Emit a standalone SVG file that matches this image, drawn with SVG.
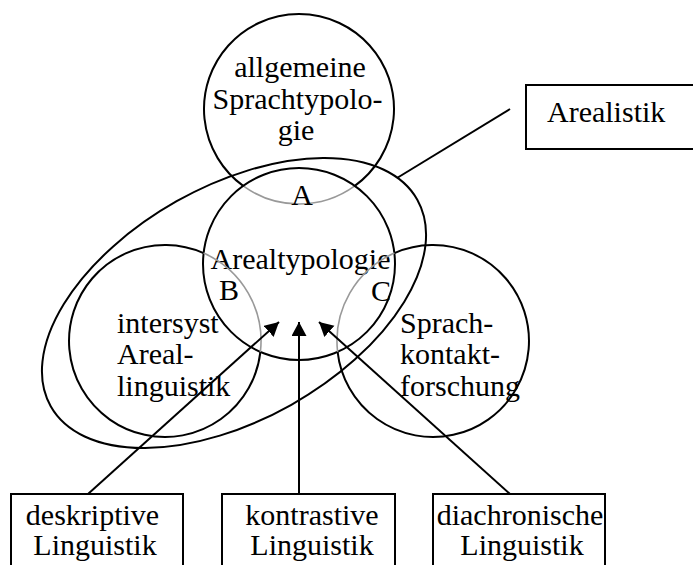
<svg xmlns="http://www.w3.org/2000/svg" width="693" height="565" viewBox="0 0 693 565">
<defs>
<style>
.ln{fill:none;stroke:#000;stroke-width:2}
.gr{fill:none;stroke:#999;stroke-width:1.6}
.bx{fill:none;stroke:#000;stroke-width:2}
text{font-family:"Liberation Serif","Times New Roman",serif;font-size:30px;fill:#000}
.c{text-anchor:middle}
</style>
<marker id="arr" markerUnits="userSpaceOnUse" markerWidth="15" markerHeight="16" refX="14" refY="7.5" orient="auto">
<path d="M0,0 L14,7.5 L0,15 z" fill="#000"/>
</marker>
</defs>
<rect width="693" height="565" fill="#fff"/>
<g id="arealistik-ellipse">
<ellipse class="ln" cx="234" cy="303" rx="210.4" ry="116.8" transform="rotate(-29.4 234 303)"/>
</g>
<g id="allgemeine-sprachtypologie">
<path class="ln" d="M243.2,185.9 A95,95 0 1 1 354.8,185.9"/>
<path class="gr" d="M354.8,185.9 A95,95 0 0 1 243.2,185.9"/>
<text class="c" x="300" y="77">allgemeine</text>
<text class="c" x="297.5" y="109">Sprachtypolo-</text>
<text class="c" x="296" y="140">gie</text>
</g>
<g id="arealtypologie">
<circle class="ln" cx="299" cy="264" r="96"/>
<text class="c" x="302" y="205">A</text>
<text class="c" x="300.5" y="269">Arealtypologie</text>
<text class="c" x="229" y="300">B</text>
<text class="c" x="381" y="301">C</text>
</g>
<g id="intersyst-areallinguistik">
<path class="ln" d="M260.4,351.9 A96,96 0 1 1 203.6,253.1"/>
<path class="gr" d="M203.6,253.1 A96,96 0 0 1 260.4,351.9"/>
<text x="117" y="333">intersyst</text>
<text x="117" y="364">Areal-</text>
<text x="117" y="396">linguistik</text>
</g>
<g id="sprachkontaktforschung">
<path class="ln" d="M394.4,253.1 A96,96 0 1 1 337.6,351.9"/>
<path class="gr" d="M337.6,351.9 A96,96 0 0 1 394.4,253.1"/>
<text x="400" y="333">Sprach-</text>
<text x="400" y="364">kontakt-</text>
<text x="400" y="396">forschung</text>
</g>
<g id="arealistik">
<rect class="bx" x="526" y="85" width="180" height="64"/>
<text x="547" y="122">Arealistik</text>
</g>
<g id="deskriptive-linguistik">
<rect class="bx" x="11" y="494" width="172" height="100"/>
<text class="c" x="92.5" y="525">deskriptive</text>
<text class="c" x="95" y="555">Linguistik</text>
</g>
<g id="kontrastive-linguistik">
<rect class="bx" x="222" y="494" width="173" height="100"/>
<text class="c" x="312" y="525">kontrastive</text>
<text class="c" x="312" y="555">Linguistik</text>
</g>
<g id="diachronische-linguistik">
<rect class="bx" x="433" y="494" width="172" height="100"/>
<text class="c" x="520" y="525">diachronische</text>
<text class="c" x="522" y="555">Linguistik</text>
</g>
<g id="connectors">
<line class="ln" x1="397" y1="178" x2="510" y2="109"/>
<line class="ln" x1="88" y1="494" x2="279" y2="322" marker-end="url(#arr)"/>
<line class="ln" x1="299" y1="494" x2="299" y2="322" marker-end="url(#arr)"/>
<line class="ln" x1="510" y1="494" x2="319" y2="322" marker-end="url(#arr)"/>
</g>
</svg>
